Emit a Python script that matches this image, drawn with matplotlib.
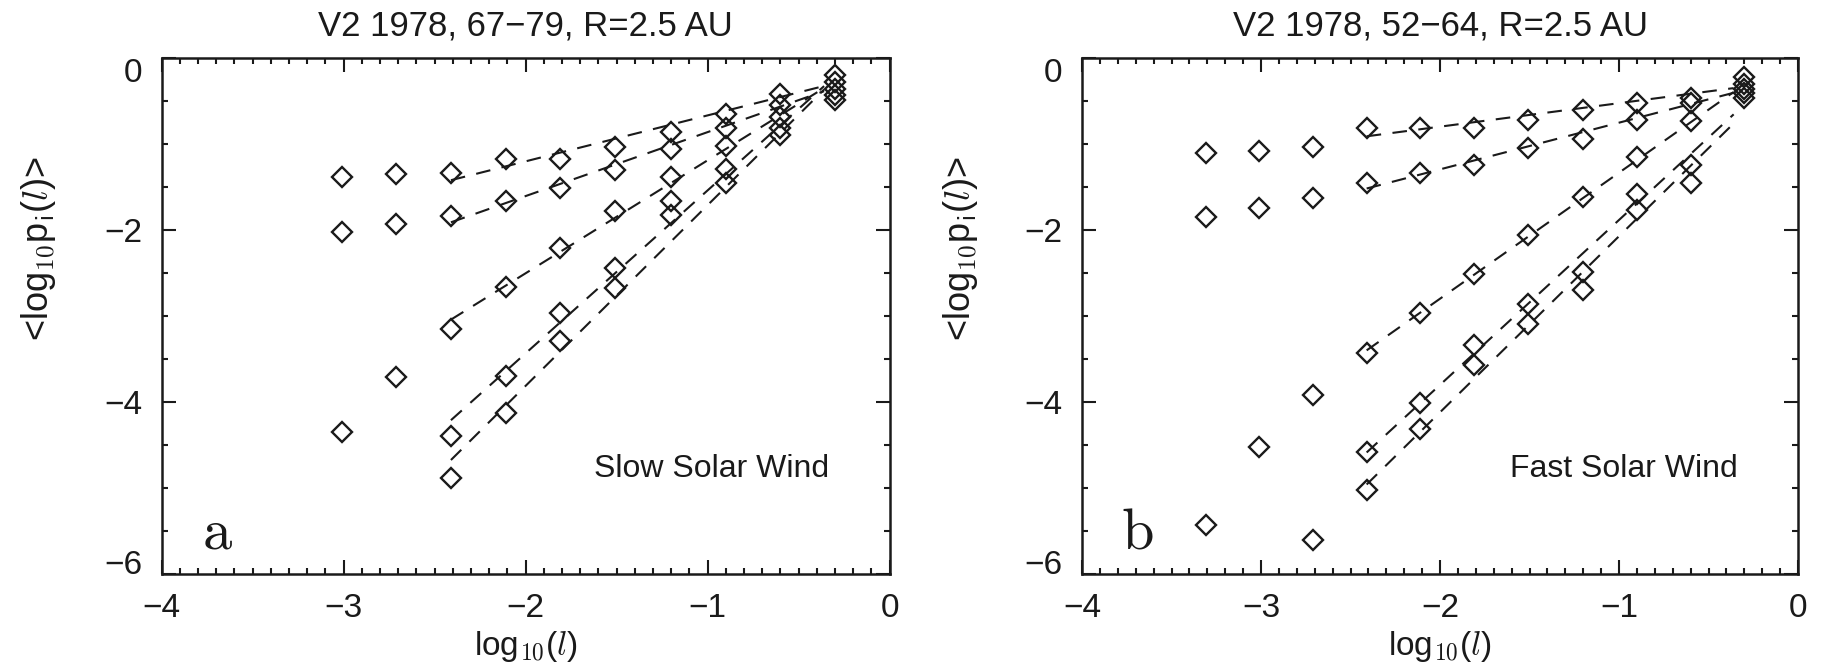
import numpy as np
import matplotlib
matplotlib.use('Agg')
import matplotlib.pyplot as plt
from matplotlib.ticker import MultipleLocator
from matplotlib import font_manager

nan = np.nan
# x positions: log10(l)
log_l = [-3.31, -3.01, -2.71, -2.41, -2.11, -1.81, -1.51, -1.20, -0.90, -0.60, -0.30]

# Panel a: slow solar wind, <log10 p_i(l)> for 5 moments
slow_1 = [nan, -1.39, -1.35, -1.34, -1.18, -1.18, -1.04, -0.86, -0.65, -0.42, -0.20]
slow_2 = [nan, -2.02, -1.93, -1.84, -1.67, -1.51, -1.30, -1.06, -0.81, -0.55, -0.28]
slow_3 = [nan, -4.35, -3.71, -3.15, -2.66, -2.21, -1.78, -1.38, -1.03, -0.69, -0.36]
slow_4 = [nan, nan, nan, -4.40, -3.70, -2.97, -2.44, -1.67, -1.29, -0.81, -0.43]
slow_5 = [nan, nan, nan, -4.89, -4.13, -3.29, -2.68, -1.83, -1.46, -0.90, -0.49]

# Panel b: fast solar wind
fast_1 = [-1.11, -1.08, -1.04, -0.82, -0.82, -0.81, -0.72, -0.61, -0.52, -0.47, -0.22]
fast_2 = [-1.85, -1.75, -1.63, -1.45, -1.34, -1.24, -1.05, -0.94, -0.72, -0.53, -0.30]
fast_3 = [nan, -4.53, -3.92, -3.43, -2.97, -2.51, -2.06, -1.62, -1.15, -0.74, -0.36]
fast_4 = [-5.43, nan, -5.61, -4.58, -4.01, -3.34, -2.86, -2.49, -1.58, -1.25, -0.41]
fast_5 = [nan, nan, nan, -5.02, -4.32, -3.57, -3.09, -2.70, -1.77, -1.46, -0.47]

titles = ['V2 1978, 67\u221279, R=2.5 AU', 'V2 1978, 52\u221264, R=2.5 AU']
wind_labels = ['Slow Solar Wind', 'Fast Solar Wind']
panel_letters = ['a', 'b']
fit_range = (-2.45, -0.25)   # points used in the dashed linear fits
fit_draw = (-2.41, -0.36)    # extent of dashed fit lines

available = {f.name for f in font_manager.fontManager.ttflist}
sans = 'Liberation Sans Narrow' if 'Liberation Sans Narrow' in available else 'Liberation Sans'
plt.rcParams['font.family'] = [sans, 'DejaVu Sans']
plt.rcParams['mathtext.fontset'] = 'cm'

fig = plt.figure(figsize=(18.48, 6.65), dpi=100)
ax_rects = [[0.0874, 0.137, 0.394, 0.776], [0.5855, 0.137, 0.3875, 0.776]]
datasets = [[slow_1, slow_2, slow_3, slow_4, slow_5],
            [fast_1, fast_2, fast_3, fast_4, fast_5]]
ink = '#1a1a1a'

axes = []
x = np.array(log_l)
for k in range(2):
    ax = fig.add_axes(ax_rects[k])
    axes.append(ax)
    for series in datasets[k]:
        y = np.array(series, dtype=float)
        ax.plot(x, y, linestyle='none', marker='D', markersize=10,
                markerfacecolor='none', markeredgecolor=ink, markeredgewidth=1.7)
        m = (x >= fit_range[0]) & (x <= fit_range[1]) & ~np.isnan(y)
        slope, icpt = np.polyfit(x[m], y[m], 1)
        xx = np.array(fit_draw)
        ax.plot(xx, slope * xx + icpt, color=ink, lw=1.5,
                linestyle=(0, (7, 5.5)))
    ax.set_xlim(-4, 0)
    ax.set_ylim(-6, 0)
    ax.xaxis.set_major_locator(MultipleLocator(1))
    ax.xaxis.set_minor_locator(MultipleLocator(0.1))
    ax.yaxis.set_major_locator(MultipleLocator(2))
    ax.yaxis.set_minor_locator(MultipleLocator(0.5))
    ax.tick_params(which='both', direction='in', top=True, right=True,
                   width=1.5, colors=ink)
    ax.tick_params(which='major', length=10, labelsize=24, pad=14)
    ax.tick_params(which='minor', length=4.5)
    for sp in ax.spines.values():
        sp.set_linewidth(1.8)
        sp.set_color(ink)
    ax.set_title(titles[k], fontsize=25, pad=16, color=ink)
    ax.set_xlabel('log$_{\\mathsf{10}}$($l$)', fontsize=24, labelpad=3, color=ink)
    ax.set_ylabel('<log$_{\\mathsf{10}}$p$_{\\mathsf{i}}$($l$)>', fontsize=26, color=ink)
    ax.yaxis.set_label_coords(-0.142, 0.63)
    ax.text(0.756, 0.203, wind_labels[k], transform=ax.transAxes, ha='center',
            va='center', fontsize=23, color=ink)
    ax.text(0.055, 0.05, '$\\mathrm{' + panel_letters[k] + '}$', transform=ax.transAxes,
            ha='left', va='baseline', fontsize=42, color=ink)

fig.canvas.draw()
# IDL-style: the end labels of the y axis sit inside the axis range
for ax in axes:
    for t in ax.yaxis.get_major_ticks():
        loc = t.get_loc()
        if abs(loc - 0) < 1e-9:
            t.label1.set_verticalalignment('top')
        elif abs(loc + 6) < 1e-9:
            t.label1.set_verticalalignment('baseline')
        else:
            t.label1.set_verticalalignment('center_baseline')

fig.savefig('out.png', dpi=100)
